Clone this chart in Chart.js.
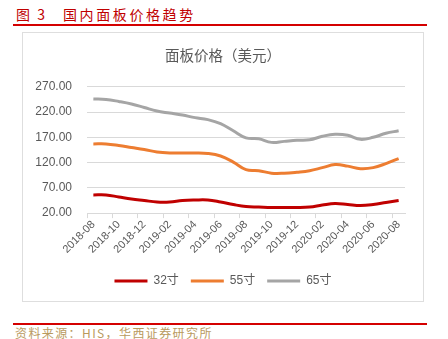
<!DOCTYPE html>
<html>
<head>
<meta charset="utf-8">
<script src="https://cdn.jsdelivr.net/npm/chart.js@4.4.1/dist/chart.umd.min.js"></script>
<style>
  html, body { margin: 0; padding: 0; background: #fff; }
  body { width: 448px; height: 339px; position: relative; overflow: hidden; font-family: "Noto Sans CJK SC", sans-serif; }
  .fig-no { position: absolute; left: 16px; top: 4px; font-size: 14px; line-height: 20px; color: #c00000; word-spacing: 4px; }
  .fig-title { position: absolute; left: 63px; top: 4px; font-size: 14px; line-height: 20px; color: #c00000; letter-spacing: 2.6px; }
  .rule { position: absolute; left: 13px; width: 414px; height: 2px; background: #d40000; }
  .box { position: absolute; left: 22px; top: 32px; width: 400px; height: 268px; border: 1px solid #dedede; }
  #chart { position: absolute; left: 0; top: 0; }
  .source { position: absolute; left: 15px; top: 325px; font-size: 12px; line-height: 16px; color: #b99a5e; letter-spacing: 1.4px; }
</style>
</head>
<body>
<div class="fig-no">图 3</div>
<div class="fig-title">国内面板价格趋势</div>
<div class="rule" style="top:24px"></div>
<div class="box"><canvas id="chart" width="400" height="268"></canvas></div>
<div class="rule" style="top:323px"></div>
<div class="source">资料来源：HIS，华西证券研究所</div>
<script>
  const months = [
    "2018-08", "2018-09", "2018-10", "2018-11", "2018-12",
    "2019-01", "2019-02", "2019-03", "2019-04", "2019-05",
    "2019-06", "2019-07", "2019-08", "2019-09", "2019-10",
    "2019-11", "2019-12", "2020-01", "2020-02", "2020-03",
    "2020-04", "2020-05", "2020-06", "2020-07", "2020-08",
  ];
  const seriesNames = ["32寸", "55寸", "65寸"];
  const price32 = [56, 56, 52, 48, 45, 42, 42, 45, 46, 46, 42, 37, 33, 32, 31, 31, 31, 32, 36, 39, 37, 35, 37, 41, 45];
  const price55 = [157, 157, 154, 150, 146, 141, 139, 139, 139, 138, 133, 121, 106, 104, 99, 99, 101, 104, 110, 116, 113, 108, 110, 118, 128];
  const price65 = [246, 245, 241, 236, 229, 222, 218, 214, 209, 205, 197, 183, 169, 167, 160, 162, 164, 165, 172, 176, 174, 166, 170, 178, 183];
  const yTicks = [20, 70, 120, 170, 220, 270];
  const colors = ["#c00000", "#ed7d31", "#a5a5a5"];

  Chart.defaults.font.family = '"Liberation Sans", "Noto Sans CJK SC", sans-serif';
  Chart.defaults.color = "#595959";

  // the right padding pulls title and legend off centre; push them back
  const recentre = {
    id: "recentre",
    afterLayout(chart) {
      for (const box of [chart.titleBlock, chart.legend]) {
        box.left += 9;
        box.right += 9;
      }
    },
  };

  const ctx = document.getElementById("chart");
  new Chart(ctx, {
    type: "line",
    data: {
      labels: months,
      datasets: [price32, price55, price65].map((values, i) => ({
        label: seriesNames[i],
        data: values,
        borderColor: colors[i],
        backgroundColor: colors[i],
        borderWidth: 3,
        pointRadius: 0,
        tension: 0.4,
        fill: false,
      })),
    },
    plugins: [recentre],
    options: {
      responsive: false,
      animation: false,
      devicePixelRatio: 1,
      layout: { padding: { left: 0, right: 18, top: 0, bottom: 4 } },
      plugins: {
        title: {
          display: true,
          text: "面板价格（美元）",
          color: "#595959",
          font: { size: 14.5, weight: "normal", family: '"Noto Sans CJK SC", sans-serif' },
          padding: { top: 14, bottom: 22.4 },
        },
        legend: {
          position: "bottom",
          labels: {
            boxWidth: 33,
            boxHeight: 3,
            padding: 12,
            color: "#595959",
            font: { size: 12 },
            generateLabels: (chart) =>
              chart.data.datasets.map((ds, i) => ({
                text: ds.label,
                fillStyle: ds.borderColor,
                strokeStyle: ds.borderColor,
                lineWidth: 0,
                fontColor: "#595959",
                hidden: false,
                datasetIndex: i,
              })),
          },
        },
        tooltip: { enabled: false },
      },
      scales: {
        x: {
          offset: true,
          grid: {
            offset: true,
            drawOnChartArea: false,
            tickLength: 5,
            color: (c) => (c.index % 2 === 0 ? "#d9d9d9" : "rgba(0,0,0,0)"),
          },
          border: { color: "#d9d9d9" },
          afterFit: (scale) => {
            scale.height += 7;
          },
          ticks: {
            autoSkip: false,
            maxRotation: 45,
            minRotation: 45,
            font: { size: 11 },
            padding: 0,
            callback: (v, i) => (i % 2 === 0 ? months[i] : ""),
          },
        },
        y: {
          min: yTicks[0],
          max: yTicks[yTicks.length - 1],
          afterBuildTicks: (scale) => {
            scale.ticks = yTicks.map((v) => ({ value: v }));
          },
          afterFit: (scale) => {
            scale.width = 64;
          },
          grid: { color: "#d9d9d9", drawTicks: false },
          border: { display: false },
          ticks: {
            padding: 15,
            font: { size: 12 },
            callback: (v) => Number(v).toFixed(2),
          },
        },
      },
    },
  });
</script>
</body>
</html>
